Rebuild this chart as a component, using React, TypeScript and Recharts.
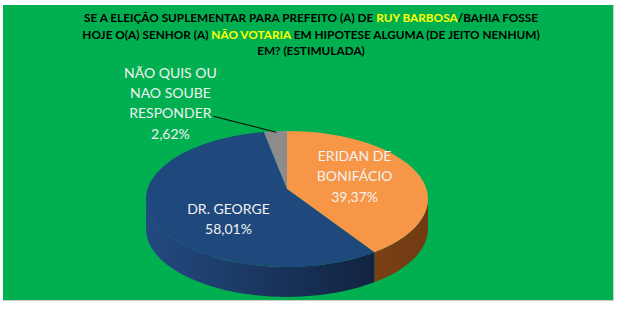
import { PieChart, Pie, Cell } from "recharts"

const candidatos = ["ERIDAN DE BONIFÁCIO", "DR. GEORGE", "NÃO QUIS OU NAO SOUBE RESPONDER"]
const percentuais = [39.37, 58.01, 2.62]
const rotulos = [["ERIDAN DE", "BONIFÁCIO"], ["DR. GEORGE"], ["NÃO QUIS OU", "NAO SOUBE", "RESPONDER"]]
const textosPercentuais = ["39,37%", "58,01%", "2,62%"]

const coresTopo = ["#F79646", "#1F497D", "#8C8C8C"]
const coresLado = [
  ["#A35A22", "#713A12"],
  ["#234A80", "#0D1A31"],
  ["#6E6E6E", "#4A4A4A"],
]

const dados = candidatos.map((nome, i) => ({ nome, valor: percentuais[i] }))

const RAD = Math.PI / 180
const ACHATAMENTO = 0.482
const PROFUNDIDADE = 30
const DESLOC_CENTRO = -10

function pontoElipse(cx: number, cy: number, r: number, ang: number) {
  return [cx + r * Math.cos(ang * RAD), cy - r * ACHATAMENTO * Math.sin(ang * RAD)]
}

function FatiaTopo(props: any) {
  const { cx, cy, outerRadius, startAngle, endAngle, fill } = props
  const rx = outerRadius
  const ry = outerRadius * ACHATAMENTO
  const [x1, y1] = pontoElipse(cx, cy, rx, startAngle)
  const [x2, y2] = pontoElipse(cx, cy, rx, endAngle)
  const grande = Math.abs(startAngle - endAngle) > 180 ? 1 : 0
  const sentido = startAngle > endAngle ? 1 : 0
  const d = `M ${cx} ${cy + DESLOC_CENTRO} L ${x1} ${y1} A ${rx} ${ry} 0 ${grande} ${sentido} ${x2} ${y2} Z`
  return <path d={d} fill={fill} stroke="none" />
}

// parede lateral: so a metade da frente (angulos entre -180 e 0) aparece
function FatiaLado(props: any) {
  const { cx, cy, outerRadius, startAngle, endAngle, fill } = props
  const rx = outerRadius
  const ry = outerRadius * ACHATAMENTO
  const alto = Math.max(startAngle, endAngle)
  const baixo = Math.min(startAngle, endAngle)
  const partes: string[] = []
  for (const k of [-360, 0, 360]) {
    const a = Math.min(alto, 0 + k)
    const b = Math.max(baixo, -180 + k)
    if (a - b <= 0.01) continue
    const [xa, ya] = pontoElipse(cx, cy, rx, a)
    const [xb, yb] = pontoElipse(cx, cy, rx, b)
    const grande = a - b > 180 ? 1 : 0
    partes.push(
      `M ${xa} ${ya} A ${rx} ${ry} 0 ${grande} 1 ${xb} ${yb} L ${xb} ${yb + PROFUNDIDADE} A ${rx} ${ry} 0 ${grande} 0 ${xa} ${ya + PROFUNDIDADE} Z`
    )
  }
  if (!partes.length) return <g />
  return <path d={partes.join(" ")} fill={fill} stroke="none" />
}

const estiloRotulo = {
  fontFamily: "Lato, 'Open Sans', sans-serif",
  fontSize: 14,
  fill: "#F2F2F2",
}

function renderRotulo(props: any) {
  const { cx, cy, midAngle, outerRadius, index } = props
  const linhas = [...rotulos[index], textosPercentuais[index]]
  const passo = 20.3
  if (index === 2) {
    // rotulo de fora, com linha de chamada ate a borda da fatia
    const [ex, ey] = pontoElipse(cx, cy, outerRadius, midAngle)
    const bx = ex - 105
    const by = ey - 59
    return (
      <g>
        <line x1={ex + 1} y1={ey + 1} x2={bx + 43} y2={by + 44} stroke="#000" strokeWidth={1} />
        {linhas.map((t, i) => (
          <text key={i} x={bx} y={by + i * passo} textAnchor="middle" dominantBaseline="central" style={estiloRotulo}>
            {t}
          </text>
        ))}
      </g>
    )
  }
  const [px, py] = pontoElipse(cx, cy, outerRadius * 0.5, midAngle)
  const ajuste = index === 0 ? [1, -12] : [6, 6]
  const x = px + ajuste[0]
  const y0 = py + ajuste[1] - ((linhas.length - 1) * passo) / 2
  return (
    <g>
      {linhas.map((t, i) => (
        <text key={i} x={x} y={y0 + i * passo} textAnchor="middle" dominantBaseline="central" style={estiloRotulo}>
          {t}
        </text>
      ))}
    </g>
  )
}

const amarelo = { color: "#FFFF00" }

export default function App() {
  return (
    <div
      style={{
        position: "fixed",
        left: 0,
        top: 0,
        width: 618,
        height: 315,
        background: "#fff",
        overflow: "hidden",
      }}
    >
      <div
        style={{
          position: "absolute",
          left: 3,
          top: 5,
          width: 610,
          height: 295,
          background: "#00B050",
          border: "1px solid #C8D0C8",
          borderTop: "none",
          borderLeft: "none",
        }}
      />
      <div
        style={{
          position: "absolute",
          left: 0,
          top: 10,
          width: 618,
          textAlign: "center",
          fontFamily: "Lato, sans-serif",
          fontWeight: 700,
          fontSize: 11.8,
          lineHeight: "16.5px",
          color: "#000",
          paddingLeft: 2,
          whiteSpace: "nowrap",
        }}
      >
        <div>
          SE A ELEIÇÃO SUPLEMENTAR PARA PREFEITO (A) DE <span style={amarelo}>RUY BARBOSA</span>/BAHIA FOSSE
        </div>
        <div>
          HOJE O(A) SENHOR (A) <span style={amarelo}>NÃO VOTARIA</span> EM HIPOTESE ALGUMA (DE JEITO NENHUM)
        </div>
        <div>EM? (ESTIMULADA)</div>
      </div>
      <div style={{ position: "absolute", left: 0, top: 0 }}>
        <PieChart width={618} height={315} margin={{ top: 0, right: 0, bottom: 0, left: 0 }}>
          <defs>
            {coresLado.map((c, i) => (
              <linearGradient key={i} id={`lado${i}`} x1="146" y1="0" x2="428" y2="0" gradientUnits="userSpaceOnUse">
                <stop offset="0%" stopColor={c[0]} />
                <stop offset="100%" stopColor={c[1]} />
              </linearGradient>
            ))}
          </defs>
          <Pie
            data={dados}
            dataKey="valor"
            nameKey="nome"
            cx={287}
            cy={199}
            outerRadius={141}
            startAngle={90}
            endAngle={-270}
            stroke="none"
            isAnimationActive={false}
            shape={FatiaLado}
            activeShape={FatiaLado}
            inactiveShape={FatiaLado}
          >
            {dados.map((d, i) => (
              <Cell key={d.nome} fill={`url(#lado${i})`} />
            ))}
          </Pie>
          <Pie
            data={dados}
            dataKey="valor"
            nameKey="nome"
            cx={287}
            cy={199}
            outerRadius={141}
            startAngle={90}
            endAngle={-270}
            stroke="none"
            isAnimationActive={false}
            shape={FatiaTopo}
            activeShape={FatiaTopo}
            inactiveShape={FatiaTopo}
            label={renderRotulo}
            labelLine={false}
          >
            {dados.map((d, i) => (
              <Cell key={d.nome} fill={coresTopo[i]} />
            ))}
          </Pie>
        </PieChart>
      </div>
    </div>
  )
}
